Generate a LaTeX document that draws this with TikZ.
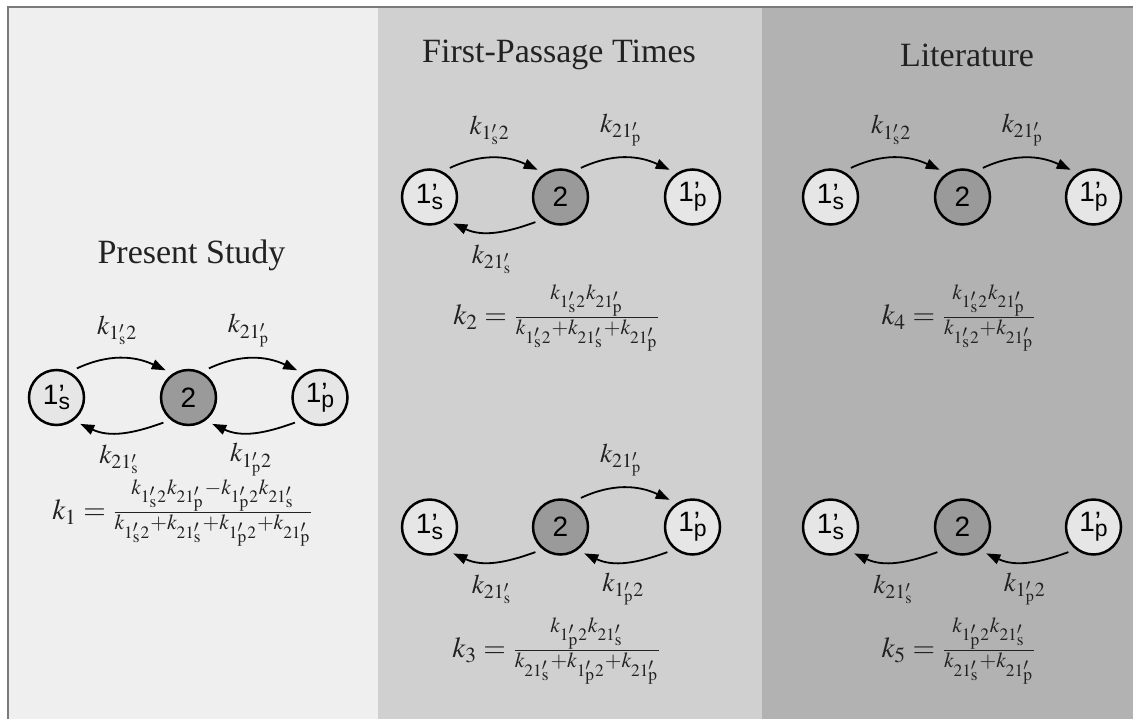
\documentclass[tikz,border=0pt]{standalone}
\usepackage{amsmath}
\usepackage{mathptmx}
\usepackage{fontspec}
\setmainfont{Liberation Serif}
\setsansfont{Liberation Sans}
\usepackage{tikz}
\usetikzlibrary{arrows.meta}

\definecolor{panelA}{HTML}{EFEFEF}
\definecolor{panelB}{HTML}{D0D0D0}
\definecolor{panelC}{HTML}{B2B2B2}
\definecolor{stateLight}{HTML}{E6E6E6}
\definecolor{stateDark}{HTML}{9A9A9A}
\definecolor{frameGray}{HTML}{7A7A7A}
\definecolor{ink}{HTML}{222222}

% rate constants
\newcommand{\kSTwo}{k_{1'_{\mathrm{s}}2}}
\newcommand{\kTwoS}{k_{21'_{\mathrm{s}}}}
\newcommand{\kTwoP}{k_{21'_{\mathrm{p}}}}
\newcommand{\kPTwo}{k_{1'_{\mathrm{p}}2}}
% state labels
\newcommand{\oneS}{1\rlap{'}\raisebox{-0.35ex}{\fontsize{11.5}{13}\selectfont s}}
\newcommand{\oneP}{1\rlap{'}\raisebox{-0.35ex}{\fontsize{11.5}{13}\selectfont p}}

\tikzset{
  state/.style={circle, draw=black, line width=1.25pt, fill=stateLight,
    minimum size=27.5pt, inner sep=0pt, outer sep=4pt,
    font=\fontsize{14}{16}\selectfont\sffamily},
  hub/.style={fill=stateDark},
  flow/.style={-{Triangle[length=7pt,width=5pt]}, line width=0.9pt},
  rate/.style={font=\fontsize{13.5}{16}\selectfont, text=ink},
  uplab/.style={rate, midway, xshift=-2pt, yshift=14pt},
  lowlab/.style={rate, midway, xshift=-1pt, yshift=-13.5pt},
  formula/.style={font=\fontsize{14.5}{17}\selectfont, text=ink},
  paneltitle/.style={font=\fontsize{17}{20}\selectfont, text=ink, anchor=base}
}

\begin{document}
\begin{tikzpicture}[x=0.5pt,y=0.5pt]
  \useasboundingbox (0,0) rectangle (1133,719);
  % panels
  \fill[white] (0,0) rectangle (1133,719);
  \fill[panelA] (7,0) rectangle (378,712);
  \fill[panelB] (378,0) rectangle (762,712);
  \fill[panelC] (762,0) rectangle (1133,712);
  \draw[frameGray, line width=1pt] (7.5,0) -- (7.5,712) -- (1133,712);

  % Present Study
  \node[paneltitle] (tA) at (191.5,456) {Present Study};
  \node[state] (s1) at (56.5,321.5) {\oneS};
  \node[state, hub] (m1) at (188.5,321.5) {2};
  \node[state] (p1) at (320,321.5) {\oneP};
  \draw[flow] (s1.55) to[out=25,in=155] node[uplab] {$\kSTwo$} (m1.130);
  \draw[flow] (m1.55) to[out=25,in=155] node[uplab] {$\kTwoP$} (p1.130);
  \draw[flow] (m1.225) to[out=200,in=-25] node[lowlab] {$\kTwoS$} (s1.-48);
  \draw[flow] (p1.225) to[out=200,in=-25] node[lowlab] {$\kPTwo$} (m1.-48);
  \node[formula] (f1) at (183,206)
    {$k_1=\frac{\kSTwo\kTwoP-\kPTwo\kTwoS}{\kSTwo+\kTwoS+\kPTwo+\kTwoP}$};

  % First-Passage Times
  \node[paneltitle] (tB) at (559,656) {First-Passage Times};
  \node[state] (s2) at (429.5,522) {\oneS};
  \node[state, hub] (m2) at (560.5,522) {2};
  \node[state] (p2) at (692.5,522) {\oneP};
  \draw[flow] (s2.55) to[out=25,in=155] node[uplab] {$\kSTwo$} (m2.130);
  \draw[flow] (m2.55) to[out=25,in=155] node[uplab] {$\kTwoP$} (p2.130);
  \draw[flow] (m2.225) to[out=200,in=-25] node[lowlab] {$\kTwoS$} (s2.-48);
  \node[formula] (f2) at (557,401)
    {$k_2=\frac{\kSTwo\kTwoP}{\kSTwo+\kTwoS+\kTwoP}$};

  \node[state] (s3) at (429.5,192) {\oneS};
  \node[state, hub] (m3) at (560.5,192) {2};
  \node[state] (p3) at (692.5,192) {\oneP};
  \draw[flow] (m3.55) to[out=25,in=155] node[uplab] {$\kTwoP$} (p3.130);
  \draw[flow] (m3.225) to[out=200,in=-25] node[lowlab] {$\kTwoS$} (s3.-48);
  \draw[flow] (p3.225) to[out=200,in=-25] node[lowlab] {$\kPTwo$} (m3.-48);
  \node[formula] (f3) at (557,68)
    {$k_3=\frac{\kPTwo\kTwoS}{\kTwoS+\kPTwo+\kTwoP}$};

  % Literature
  \node[paneltitle] (tC) at (967,652) {Literature};
  \node[state] (s4) at (830.5,522) {\oneS};
  \node[state, hub] (m4) at (962.5,522) {2};
  \node[state] (p4) at (1093.5,522) {\oneP};
  \draw[flow] (s4.55) to[out=25,in=155] node[uplab] {$\kSTwo$} (m4.130);
  \draw[flow] (m4.55) to[out=25,in=155] node[uplab] {$\kTwoP$} (p4.130);
  \node[formula] (f4) at (959,401)
    {$k_4=\frac{\kSTwo\kTwoP}{\kSTwo+\kTwoP}$};

  \node[state] (s5) at (830.5,192) {\oneS};
  \node[state, hub] (m5) at (962.5,192) {2};
  \node[state] (p5) at (1093.5,192) {\oneP};
  \draw[flow] (m5.225) to[out=200,in=-25] node[lowlab] {$\kTwoS$} (s5.-48);
  \draw[flow] (p5.225) to[out=200,in=-25] node[lowlab] {$\kPTwo$} (m5.-48);
  \node[formula] (f5) at (959,68)
    {$k_5=\frac{\kPTwo\kTwoS}{\kTwoS+\kTwoP}$};
\end{tikzpicture}
\end{document}
